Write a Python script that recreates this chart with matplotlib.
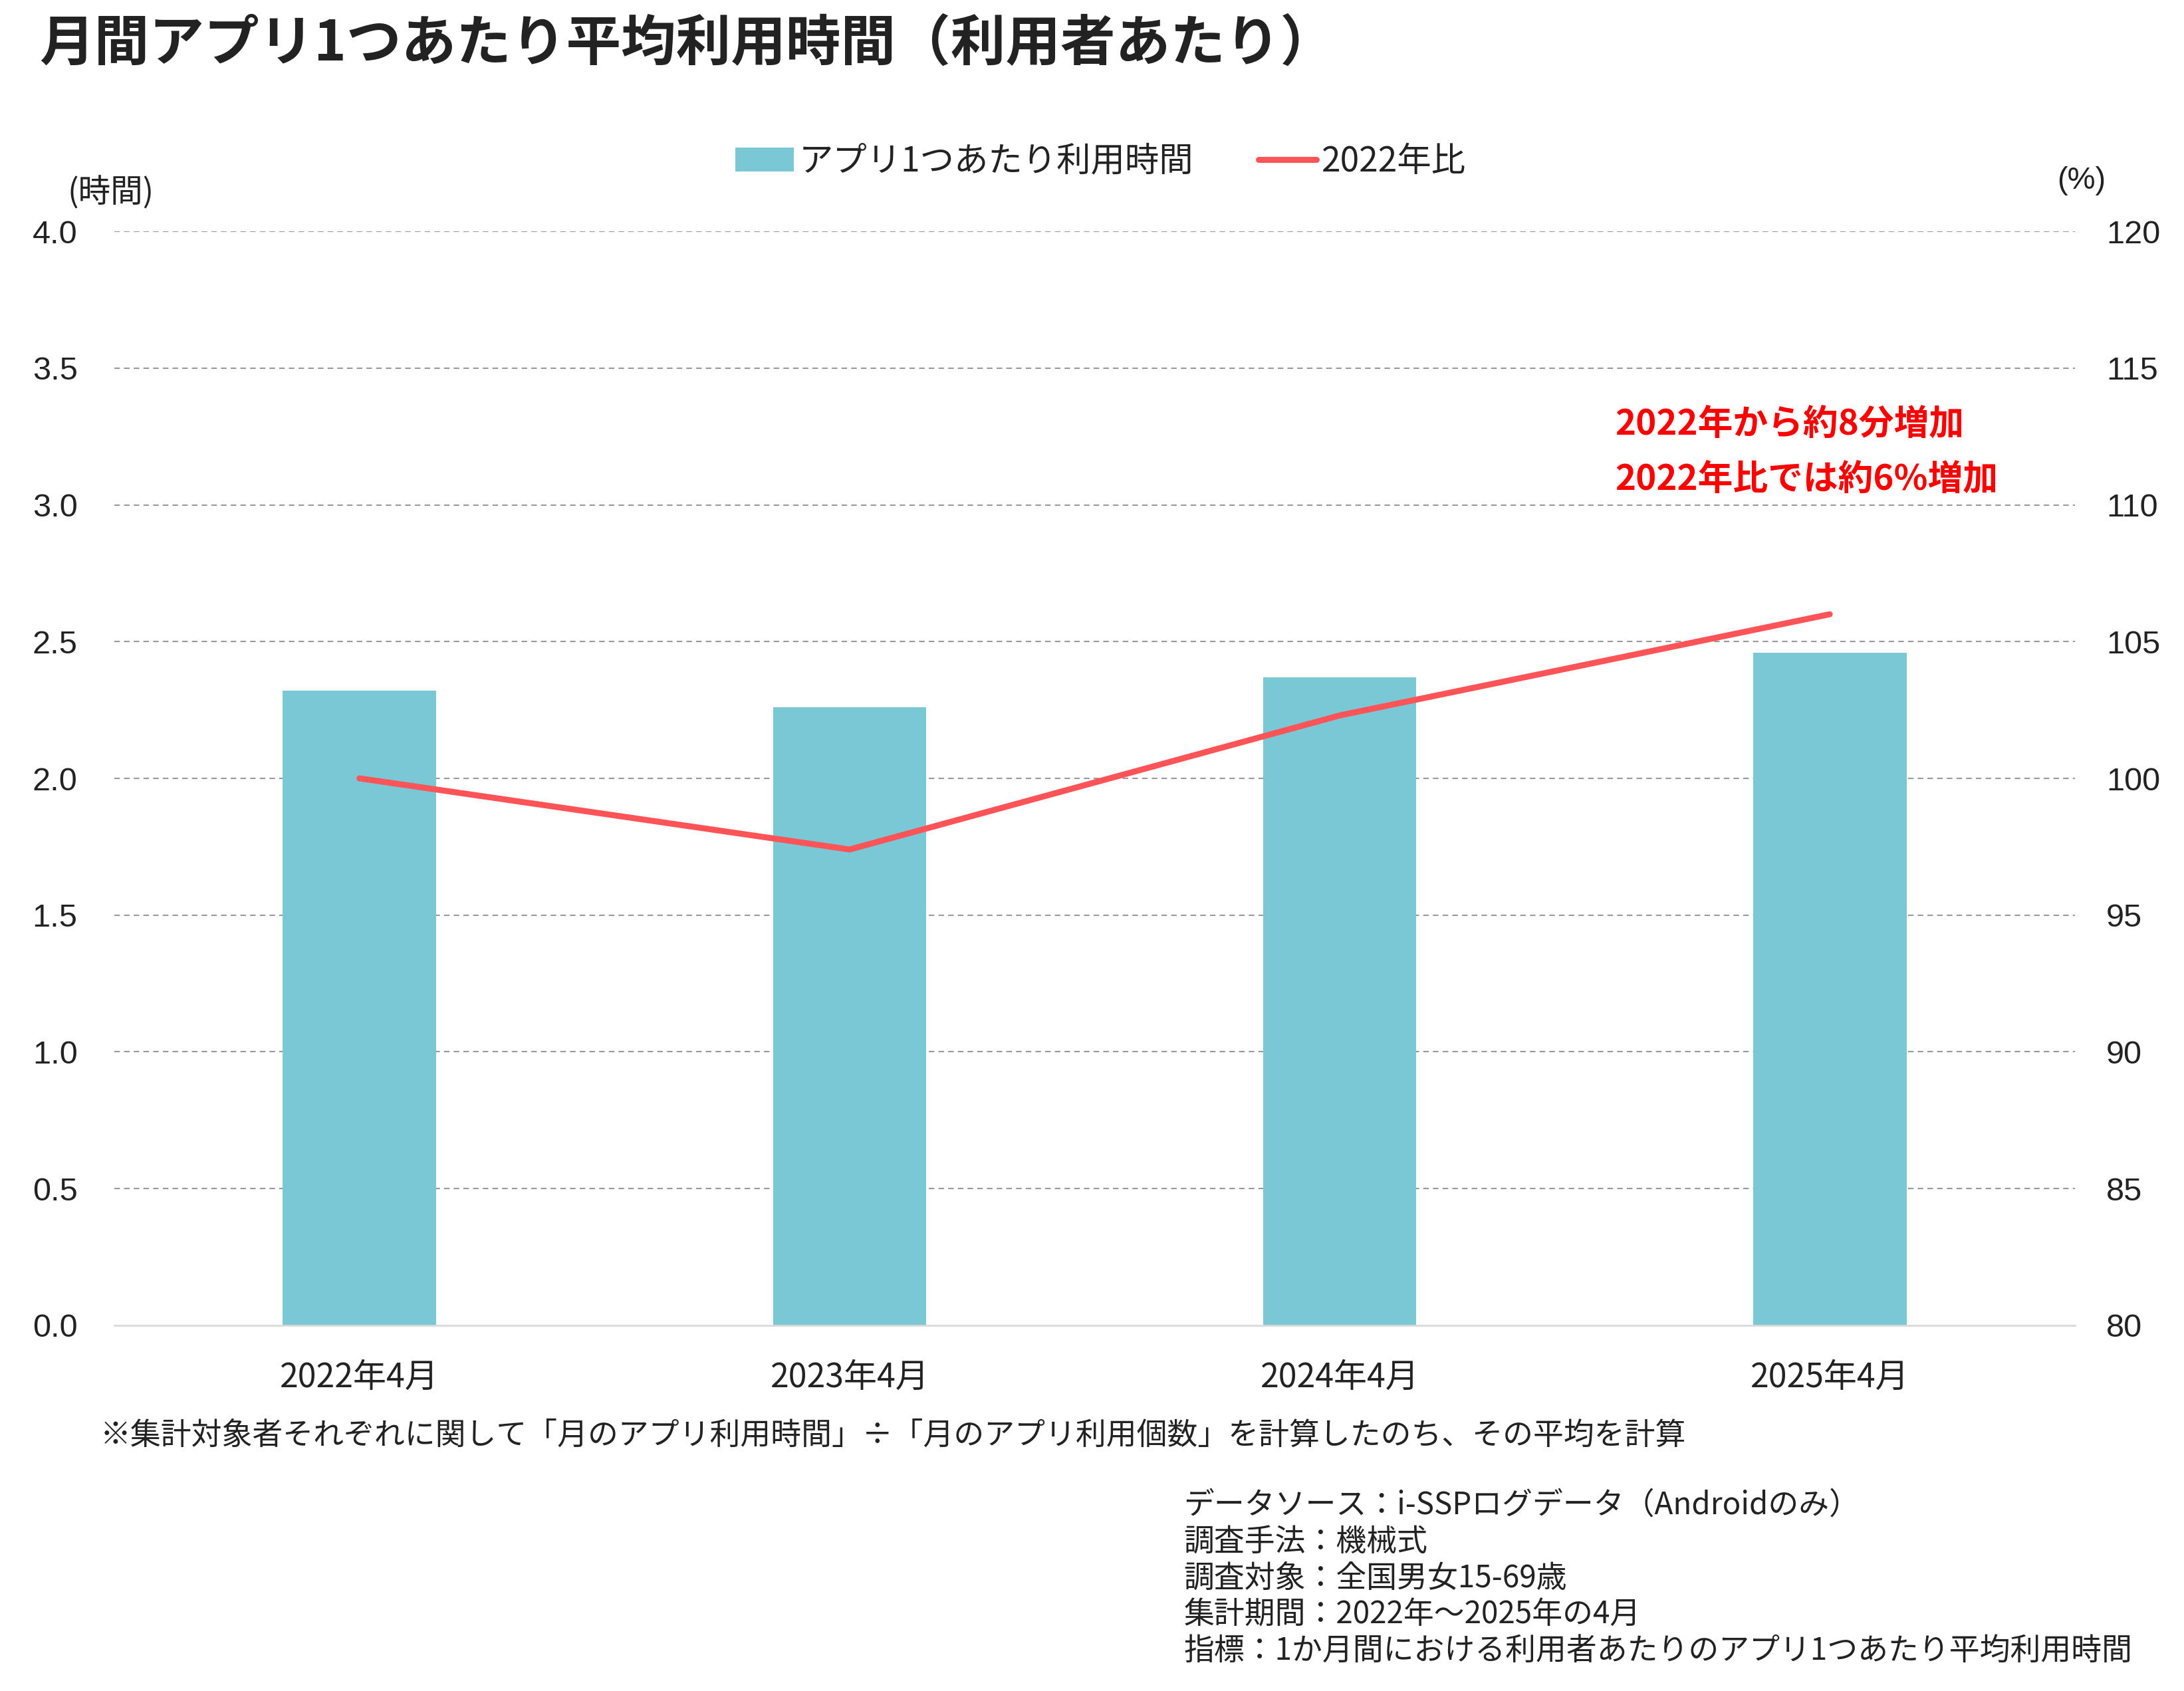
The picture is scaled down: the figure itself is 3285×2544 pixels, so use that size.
import numpy as np
import matplotlib.pyplot as plt
from matplotlib.patches import Patch
from matplotlib.lines import Line2D

plt.rcParams['font.family'] = ['Noto Sans CJK JP', 'DejaVu Sans']

# data
months = ['2022年4月', '2023年4月', '2024年4月', '2025年4月']
hours = [2.32, 2.26, 2.37, 2.46]          # アプリ1つあたり利用時間 (時間)
ratio = [100.0, 97.4, 102.3, 106.0]       # 2022年比 (%)
left_ticks = [0.0, 0.5, 1.0, 1.5, 2.0, 2.5, 3.0, 3.5, 4.0]
right_ticks = [80, 85, 90, 95, 100, 105, 110, 115, 120]

title = '月間アプリ1つあたり平均利用時間（利用者あたり）'
note = '※集計対象者それぞれに関して「月のアプリ利用時間」÷「月のアプリ利用個数」を計算したのち、その平均を計算'
source = ['データソース：i-SSPログデータ（Androidのみ）',
          '調査手法：機械式',
          '調査対象：全国男女15-69歳',
          '集計期間：2022年～2025年の4月',
          '指標：1か月間における利用者あたりのアプリ1つあたり平均利用時間']
callout = ['2022年から約8分増加', '2022年比では約6%増加']

bar_color = '#78C8D6'
line_color = '#FF5457'
num_font = ['Liberation Sans', 'Noto Sans CJK JP']

fig = plt.figure(figsize=(32.85, 25.44), dpi=100)
ax = fig.add_axes([0.0524, 0.2162, 0.8976, 0.647])
x = np.arange(len(months))

ax.bar(x, hours, width=0.313, color=bar_color, zorder=2)
ax.set_xlim(-0.5, len(months) - 0.5)
ax.set_ylim(0, 4)
ax.set_yticks(left_ticks)
ax.set_yticklabels([f'{t:.1f}' for t in left_ticks], fontsize=35, family=num_font)
ax.set_xticks(x)
ax.set_xticklabels(months, fontsize=36, color='#222222')
ax.tick_params(axis='both', length=0, colors='#222222')
ax.tick_params(axis='y', pad=40)
ax.tick_params(axis='x', pad=38)
for s in ['top', 'left', 'right']:
    ax.spines[s].set_visible(False)
ax.spines['bottom'].set_color('#D9D9D9')
ax.spines['bottom'].set_linewidth(2)
ax.set_axisbelow(True)
ax.yaxis.grid(True, color='#999999', linestyle=(0, (4, 3)), linewidth=1.5)
ax.get_ygridlines()[0].set_visible(False)

ax2 = ax.twinx()
ax2.plot(x, ratio, color=line_color, linewidth=6.5, solid_capstyle='round',
         solid_joinstyle='miter', zorder=3)
ax2.set_ylim(80, 120)
ax2.set_yticks(right_ticks)
ax2.set_yticklabels([str(t) for t in right_ticks], fontsize=35, family=num_font)
ax2.tick_params(axis='y', length=0, pad=34, colors='#222222')
for s in ['top', 'left', 'right', 'bottom']:
    ax2.spines[s].set_visible(False)

# axis unit labels
fig.text(0.031, 0.886, '(時間)', fontsize=35, color='#222222', va='center')
fig.text(0.942, 0.893, '(%)', fontsize=34, color='#222222', va='center', family=num_font)

# title
fig.text(0.018, 0.974, title, fontsize=59.5, fontweight='bold', color='#222222', va='center')

# legend
handles = [Patch(facecolor=bar_color, edgecolor='none'),
           Line2D([0], [0], color=line_color, linewidth=6.5, solid_capstyle='round')]
fig.legend(handles, ['アプリ1つあたり利用時間', '2022年比'], loc='center',
           bbox_to_anchor=(0.504, 0.9045), ncol=2, frameon=False, fontsize=37,
           handlelength=1.7, handletextpad=0.15, columnspacing=1.9, labelcolor='#222222')

# callout
for i, t in enumerate(callout):
    fig.text(0.7395, 0.749 - i * 0.0325, t, fontsize=38, fontweight='bold',
             color='#FF0000', va='center')

# notes
fig.text(0.046, 0.151, note, fontsize=33, color='#222222', va='center')
for i, t in enumerate(source):
    fig.text(0.542, 0.110 - i * 0.0217, t, fontsize=33, color='#222222', va='center')

fig.savefig('out.png', dpi=100)
